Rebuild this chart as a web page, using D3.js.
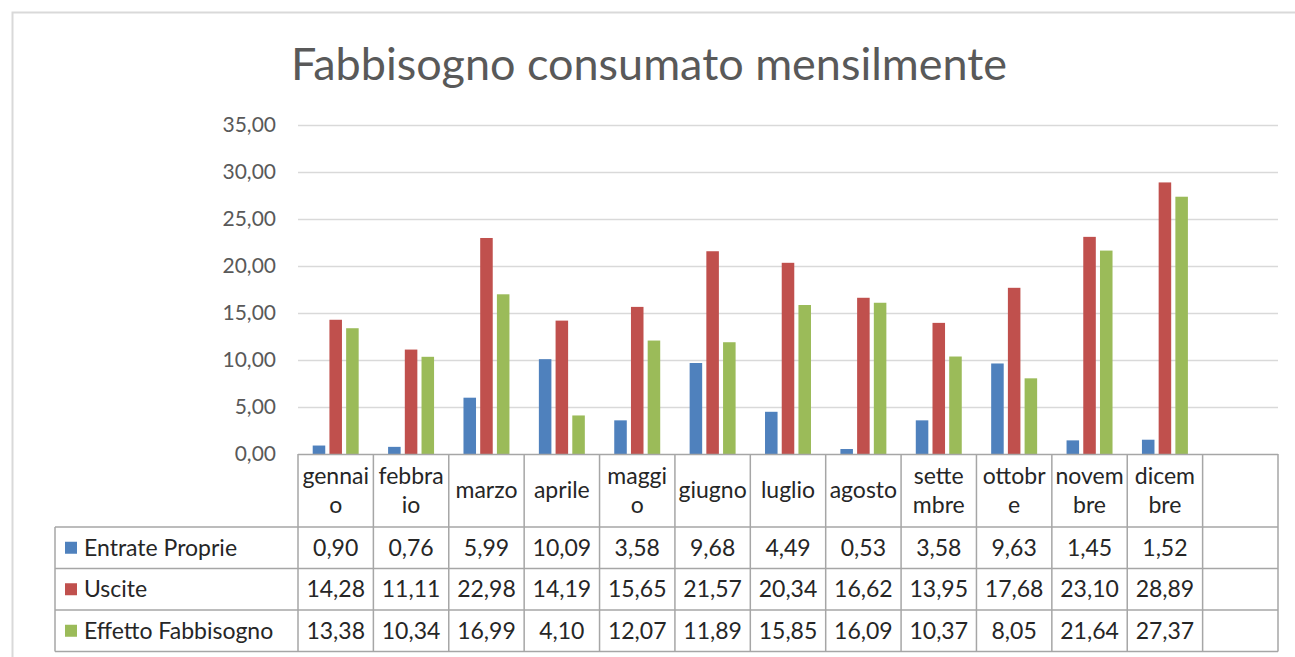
<!DOCTYPE html>
<html>
<head>
<meta charset="utf-8">
<script src="https://cdn.jsdelivr.net/npm/d3@7"></script>
<style>
  body { margin: 0; background: #fff; }
  text { font-family: Lato, "Open Sans", sans-serif; }
</style>
</head>
<body>
<div id="chart"></div>
<script>
// data
var months = ["gennaio", "febbraio", "marzo", "aprile", "maggio", "giugno",
              "luglio", "agosto", "settembre", "ottobre", "novembre", "dicembre"];
// header labels as wrapped in the table
var monthLabels = [["gennai", "o"], ["febbra", "io"], ["marzo"], ["aprile"], ["maggi", "o"], ["giugno"],
                   ["luglio"], ["agosto"], ["sette", "mbre"], ["ottobr", "e"], ["novem", "bre"], ["dicem", "bre"]];
var entrate = [0.90, 0.76, 5.99, 10.09, 3.58, 9.68, 4.49, 0.53, 3.58, 9.63, 1.45, 1.52];
var uscite  = [14.28, 11.11, 22.98, 14.19, 15.65, 21.57, 20.34, 16.62, 13.95, 17.68, 23.10, 28.89];
var effetto = [13.38, 10.34, 16.99, 4.10, 12.07, 11.89, 15.85, 16.09, 10.37, 8.05, 21.64, 27.37];
var seriesNames = ["Entrate Proprie", "Uscite", "Effetto Fabbisogno"];
var seriesColors = ["#4F81BD", "#C0504D", "#9BBB59"];
var yTicks = [0, 5, 10, 15, 20, 25, 30, 35];
var titleText = "Fabbisogno consumato mensilmente";

var series = [entrate, uscite, effetto];

// set the dimensions and margins of the graph
var W = 1295, H = 657;
var margin = {top: 125, right: 17, bottom: 203, left: 298},
    width = W - margin.left - margin.right,
    height = H - margin.top - margin.bottom;

var svg = d3.select("#chart")
    .append("svg")
    .attr("width", W)
    .attr("height", H);

// outer chart frame
svg.append("rect")
    .attr("x", 12.5).attr("y", 12.5)
    .attr("width", W + 20).attr("height", H + 20)
    .attr("fill", "none")
    .attr("stroke", "#D9D9D9")
    .attr("stroke-width", 2);

// title
svg.append("text")
    .attr("x", 649)
    .attr("y", 80)
    .attr("text-anchor", "middle")
    .attr("textLength", 716)
    .attr("lengthAdjust", "spacingAndGlyphs")
    .style("font-size", "45px")
    .style("font-weight", 400)
    .style("fill", "#595959")
    .text(titleText);

var g = svg.append("g")
    .attr("transform", "translate(" + margin.left + "," + margin.top + ")");

// X scale: 12 months plus the empty column at the right
var x = d3.scaleBand()
    .domain(months.concat([""]))
    .range([0, width]);

var xInner = d3.scaleBand()
    .domain(d3.range(series.length))
    .range([0, x.bandwidth()])
    .paddingInner(0.25)
    .paddingOuter(0.88);

var y = d3.scaleLinear()
    .domain([0, 35])
    .range([height, 0]);

// gridlines
g.append("g")
  .selectAll("line")
  .data(yTicks.slice(1))
  .enter()
  .append("line")
    .attr("x1", 0).attr("x2", width)
    .attr("y1", function(d) { return Math.round(y(d)) + 0.5; })
    .attr("y2", function(d) { return Math.round(y(d)) + 0.5; })
    .attr("stroke", "#D9D9D9")
    .attr("stroke-width", 1.5);

// Y axis labels
var yAxis = g.append("g")
    .attr("transform", "translate(-19,0)")
    .call(d3.axisLeft(y).tickValues(yTicks).tickSize(0)
      .tickFormat(function(d) { return d3.format(".2f")(d).replace(".", ","); }));
yAxis.select(".domain").remove();
yAxis.selectAll("text")
    .style("font-family", "Lato, sans-serif")
    .style("font-size", "21px")
    .style("fill", "#595959");

// bars
var flat = [];
series.forEach(function(s, i) {
  s.forEach(function(v, j) { flat.push({s: i, month: months[j], value: v}); });
});

g.selectAll(".bar")
  .data(flat)
  .enter()
  .append("rect")
    .attr("class", "bar")
    .attr("x", function(d) { return x(d.month) + xInner(d.s); })
    .attr("y", function(d) { return y(d.value); })
    .attr("width", xInner.bandwidth())
    .attr("height", function(d) { return height - y(d.value); })
    .style("fill", function(d) { return seriesColors[d.s]; });

// data table
var headerH = 73, rowH = 41.5;
var legendLeft = 55 - margin.left;
var fmt = function(v) { return d3.format(".2f")(v).replace(".", ","); };
var gridColor = "#A6A6A6";
var fs = "23px";
var t = g.append("g").attr("transform", "translate(0," + height + ")");

// horizontal lines
t.append("line")
    .attr("x1", 0).attr("x2", width).attr("y1", 0.5).attr("y2", 0.5)
    .attr("stroke", gridColor).attr("stroke-width", 1.5);
d3.range(series.length + 1).forEach(function(i) {
  var yy = headerH + i * rowH;
  t.append("line")
    .attr("x1", legendLeft).attr("x2", width)
    .attr("y1", yy).attr("y2", yy)
    .attr("stroke", gridColor).attr("stroke-width", 1.5);
});

// vertical lines
var bounds = x.domain().map(function(m) { return x(m); }).concat([width]);
t.selectAll(".vline")
  .data(bounds)
  .enter()
  .append("line")
    .attr("class", "vline")
    .attr("x1", function(d) { return d; }).attr("x2", function(d) { return d; })
    .attr("y1", 0).attr("y2", headerH + series.length * rowH)
    .attr("stroke", gridColor).attr("stroke-width", 1.5);
t.append("line")
    .attr("x1", legendLeft).attr("x2", legendLeft)
    .attr("y1", headerH).attr("y2", headerH + series.length * rowH)
    .attr("stroke", gridColor).attr("stroke-width", 1.5);

// header labels
months.forEach(function(m, j) {
  var lines = monthLabels[j];
  var cx = x(m) + x.bandwidth() / 2;
  var top = lines.length === 1 ? 44 : 30;
  lines.forEach(function(l, k) {
    t.append("text")
      .attr("x", cx)
      .attr("y", top + k * 29)
      .attr("text-anchor", "middle")
      .style("font-size", fs)
      .style("fill", "#262626")
      .text(l);
  });
});

// rows
series.forEach(function(s, i) {
  var rowY = headerH + i * rowH;
  t.append("rect")
    .attr("x", legendLeft + 10).attr("y", rowY + rowH / 2 - 6)
    .attr("width", 12).attr("height", 12)
    .attr("fill", seriesColors[i]);
  t.append("text")
    .attr("x", legendLeft + 29)
    .attr("y", rowY + rowH / 2 + 8)
    .style("font-size", fs)
    .style("fill", "#262626")
    .text(seriesNames[i]);
  t.selectAll(null)
    .data(s)
    .enter()
    .append("text")
      .attr("x", function(d, j) { return x(months[j]) + x.bandwidth() / 2; })
      .attr("y", rowY + rowH / 2 + 8)
      .attr("text-anchor", "middle")
      .style("font-size", fs)
      .style("fill", "#262626")
      .text(fmt);
});
</script>
</body>
</html>
